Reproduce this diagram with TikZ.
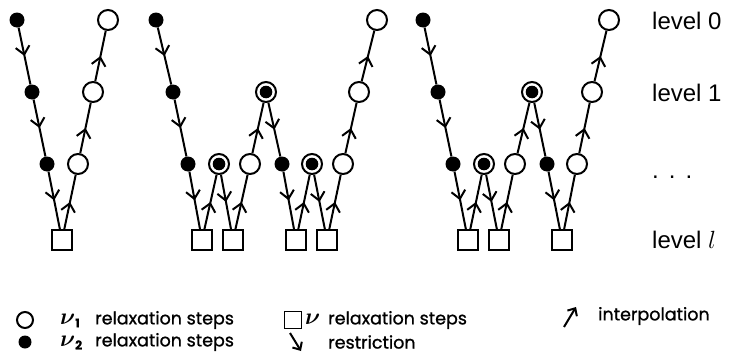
\documentclass[tikz,border=0pt]{standalone}
\usepackage{amsmath,amssymb}
\usepackage{fontspec}
\setmainfont{Poppins}
\newfontfamily\legfont{Poppins}[FakeBold=1]
\newfontfamily\levfont{Liberation Sans}
\usetikzlibrary{arrows.meta,decorations.markings}
\newcommand{\bignu}[1]{\scalebox{1.35}{$\boldsymbol{\nu}$}\ifx&#1&\else\raisebox{-3pt}{\bfseries #1}\fi}
\begin{document}
\begin{tikzpicture}[x=1pt,y=-1pt,
  blk/.style={circle,fill=black,inner sep=0pt,minimum size=15pt},
  opn/.style={circle,draw,line width=2pt,fill=white,inner sep=0pt,minimum size=20pt},
  dbl/.style={opn,path picture={\fill[black] (path picture bounding box.center) circle (6.3pt);}},
  sq/.style={draw,line width=1.8pt,inner sep=0pt,minimum size=20pt},
  flow/.style={line width=2pt,postaction={decorate},decoration={markings,mark=at position 0.5 with {\arrow{Straight Barb[length=8pt,width=14pt,line width=2pt]}}}},
  legarr/.style={line width=2pt,-{Straight Barb[length=6pt,width=11pt,line width=2pt]}},
  lbl/.style={font=\legfont\fontsize{17.5}{20}\selectfont,anchor=west,inner sep=0pt},
  lev/.style={font=\levfont\fontsize{24}{26}\selectfont,anchor=west,inner sep=0pt}
]
\useasboundingbox (0,0) rectangle (729,356);
% first V
\node[blk] (a1) at (17,20) {};
\node[blk] (a2) at (32,92) {};
\node[blk] (a3) at (47,164) {};
\node[sq]  (a4) at (62,240) {};
\node[opn] (a5) at (78,164) {};
\node[opn] (a6) at (93,92) {};
\node[opn] (a7) at (108,20) {};
\draw[flow] (a1)--(a2); \draw[flow] (a2)--(a3); \draw[flow] (a3)--(a4);
\draw[flow] (a4)--(a5); \draw[flow] (a5)--(a6); \draw[flow] (a6)--(a7);
% W cycle
\node[blk] (b1) at (156,20) {};
\node[blk] (b2) at (173,92) {};
\node[blk] (b3) at (188,164) {};
\node[sq]  (b4) at (202,240) {};
\node[dbl] (b5) at (219,164) {};
\node[sq]  (b6) at (233,240) {};
\node[opn] (b7) at (250,164) {};
\node[dbl] (b8) at (266,92) {};
\node[blk] (b9) at (282,164) {};
\node[sq]  (b10) at (296,240) {};
\node[dbl] (b11) at (312,164) {};
\node[sq]  (b12) at (327,240) {};
\node[opn] (b13) at (343,164) {};
\node[opn] (b14) at (359,92) {};
\node[opn] (b15) at (377,20) {};
\draw[flow] (b1)--(b2); \draw[flow] (b2)--(b3); \draw[flow] (b3)--(b4);
\draw[flow] (b4)--(b5); \draw[flow] (b5)--(b6); \draw[flow] (b6)--(b7);
\draw[flow] (b7)--(b8); \draw[flow] (b8)--(b9); \draw[flow] (b9)--(b10);
\draw[flow] (b10)--(b11); \draw[flow] (b11)--(b12); \draw[flow] (b12)--(b13);
\draw[flow] (b13)--(b14); \draw[flow] (b14)--(b15);
% F cycle
\node[blk] (c1) at (423,20) {};
\node[blk] (c2) at (438,92) {};
\node[blk] (c3) at (453,164) {};
\node[sq]  (c4) at (468,240) {};
\node[dbl] (c5) at (484,164) {};
\node[sq]  (c6) at (499,240) {};
\node[opn] (c7) at (515,164) {};
\node[dbl] (c8) at (532,92) {};
\node[blk] (c9) at (547,164) {};
\node[sq]  (c10) at (562,240) {};
\node[opn] (c11) at (577,164) {};
\node[opn] (c12) at (592,92) {};
\node[opn] (c13) at (609,20) {};
\draw[flow] (c1)--(c2); \draw[flow] (c2)--(c3); \draw[flow] (c3)--(c4);
\draw[flow] (c4)--(c5); \draw[flow] (c5)--(c6); \draw[flow] (c6)--(c7);
\draw[flow] (c7)--(c8); \draw[flow] (c8)--(c9); \draw[flow] (c9)--(c10);
\draw[flow] (c10)--(c11); \draw[flow] (c11)--(c12); \draw[flow] (c12)--(c13);
% level labels
\node[lev] (l0) at (652,21) {level 0};
\node[lev] (l1) at (652,93) {level 1};
\node[lev,anchor=base west] (ld) at (652,178) {.\hspace{0.42em}.\hspace{0.42em}.};
\node[lev] (ll) at (652,240) {level $l$};
% legend
\node[circle,draw,line width=2pt,inner sep=0pt,minimum size=16pt] (k1) at (25,320) {};
\node[circle,fill=black,inner sep=0pt,minimum size=13pt] (k2) at (25,342) {};
\node[lbl] (t1) at (60,320) {\makebox[35pt][l]{\bignu{\fontsize{12}{12}\selectfont 1}}relaxation steps};
\node[lbl] (t2) at (60,342) {\makebox[35pt][l]{\bignu{\fontsize{12}{12}\selectfont 2}}relaxation steps};
\node[draw,line width=1.8pt,inner sep=0pt,minimum size=17pt] (k3) at (293,320) {};
\node[lbl] (t3) at (305,320) {\makebox[23pt][l]{\bignu{}}relaxation steps};
\coordinate (r1) at (290,333); \coordinate (r2) at (301,351);
\draw[legarr] (r1)--(r2);
\node[lbl] (t4) at (328,342) {restriction};
\coordinate (i1) at (564,327); \coordinate (i2) at (576,307);
\draw[legarr] (i1)--(i2);
\node[lbl] (t5) at (598,316) {interpolation};
\end{tikzpicture}
\end{document}
